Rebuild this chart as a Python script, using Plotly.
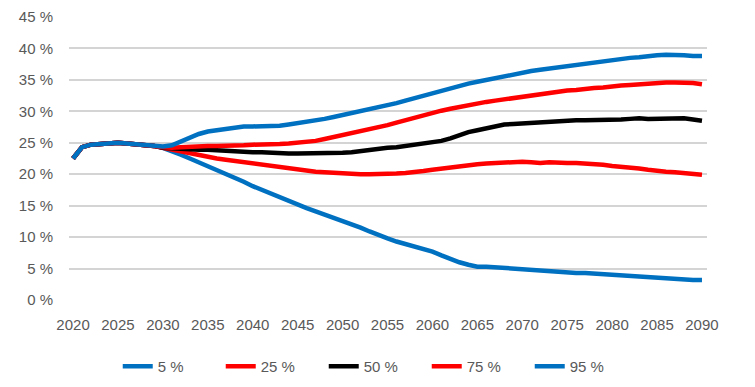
import plotly.graph_objects as go

years = list(range(2020, 2091))

common = [22.5, 24.3, 24.7, 24.8, 24.9, 25.0, 24.9, 24.8, 24.7, 24.5]  # 2020-2029

p95 = common + [24.4, 24.6, 25.2, 25.9, 26.4, 26.8, 27.0, 27.2, 27.4, 27.6,
                27.6, 27.6, 27.6, 27.7, 27.9, 28.1, 28.3, 28.5, 28.8, 29.1,
                29.4, 29.7, 30.0, 30.3, 30.6, 30.9, 31.3, 31.7, 32.1, 32.5,
                32.9, 33.3, 33.6, 34.0, 34.4, 34.7, 35.0, 35.3, 35.6, 35.9,
                36.2, 36.4, 36.6, 36.8, 37.0, 37.1, 37.3, 37.5, 37.7, 38.0,
                38.2, 38.4, 38.5, 38.6, 38.8, 38.9, 39.0, 39.0, 38.9, 38.8,
                38.8]

p75 = common + [24.3, 24.2, 24.3, 24.4, 24.4, 24.5, 24.5, 24.5, 24.6, 24.6,
                24.7, 24.7, 24.8, 24.8, 24.9, 25.0, 25.1, 25.3, 25.6, 25.9,
                26.2, 26.5, 26.9, 27.2, 27.5, 27.8, 28.2, 28.6, 28.9, 29.3,
                29.7, 30.1, 30.4, 30.7, 30.9, 31.2, 31.5, 31.7, 31.9, 32.2,
                32.4, 32.6, 32.8, 33.0, 33.1, 33.3, 33.4, 33.6, 33.7, 33.8,
                34.0, 34.1, 34.2, 34.3, 34.4, 34.6, 34.6, 34.6, 34.6, 34.5,
                34.3]

p50 = common + [24.2, 24.1, 24.0, 24.0, 23.9, 23.9, 23.8, 23.7, 23.7, 23.6,
                23.5, 23.5, 23.4, 23.3, 23.3, 23.3, 23.3, 23.3, 23.3, 23.3,
                23.4, 23.5, 23.7, 23.8, 24.0, 24.2, 24.3, 24.5, 24.6, 24.8,
                25.0, 25.3, 25.7, 26.2, 26.7, 27.0, 27.3, 27.6, 27.9, 28.0,
                28.1, 28.2, 28.3, 28.4, 28.5, 28.5, 28.6, 28.6, 28.6, 28.6,
                28.7, 28.7, 28.8, 28.9, 28.8, 28.8, 28.9, 28.9, 28.9, 28.7,
                28.5]

p25 = common + [24.2, 23.9, 23.6, 23.3, 23.0, 22.7, 22.5, 22.3, 22.1, 21.9,
                21.7, 21.5, 21.3, 21.1, 20.9, 20.7, 20.5, 20.4, 20.3, 20.2,
                20.1, 20.0, 20.0, 20.0, 20.0, 20.0, 20.1, 20.2, 20.3, 20.5,
                20.7, 20.9, 21.1, 21.3, 21.5, 21.6, 21.7, 21.8, 21.9, 22.0,
                22.0, 21.9, 21.8, 21.9, 21.8, 21.8, 21.8, 21.7, 21.7, 21.5,
                21.3, 21.2, 21.1, 20.9, 20.7, 20.5, 20.4, 20.3, 20.2, 20.0,
                19.9]

p5 = common + [24.2, 23.7, 23.1, 22.5, 21.9, 21.3, 20.7, 20.1, 19.4, 18.8,
               18.1, 17.5, 16.9, 16.4, 15.8, 15.2, 14.6, 14.1, 13.6, 13.1,
               12.5, 12.0, 11.5, 10.9, 10.3, 9.8, 9.3, 8.9, 8.5, 8.1,
               7.7, 7.1, 6.5, 6.0, 5.6, 5.3, 5.3, 5.2, 5.0, 4.9,
               4.8, 4.8, 4.7, 4.5, 4.4, 4.4, 4.3, 4.3, 4.2, 4.1,
               4.0, 3.9, 3.8, 3.7, 3.6, 3.5, 3.4, 3.3, 3.2, 3.2,
               3.2]

series_names = ["5 %", "25 %", "50 %", "75 %", "95 %"]
series_values = [p5, p25, p50, p75, p95]
series_colors = ["#0070C0", "#FF0000", "#000000", "#FF0000", "#0070C0"]

x_ticks = list(range(2020, 2091, 5))
y_ticks = list(range(0, 46, 5))
y_tick_labels = [f"{v} %" for v in y_ticks]

fig = go.Figure()
for name, vals, col in zip(series_names, series_values, series_colors):
    fig.add_trace(go.Scatter(x=years, y=vals, mode="lines", name=name,
                             line=dict(color=col, width=4.5)))

font_family = "Liberation Sans, Arial, sans-serif"
fig.update_layout(
    width=755, height=387,
    margin=dict(l=61, r=56, t=9, b=95, autoexpand=False),
    paper_bgcolor="white", plot_bgcolor="white",
    font=dict(family=font_family, size=15, color="#595959"),
    showlegend=True,
    legend=dict(orientation="h", x=0.48, xanchor="center", y=-0.235, yanchor="middle",
                font=dict(size=15, color="#595959"), entrywidth=58,
                traceorder="normal"),
    xaxis=dict(range=[2019.55, 2090.56], tickmode="array", tickvals=x_ticks,
               showgrid=False, zeroline=False, showline=False,
               ticks="outside", ticklen=11, tickcolor="rgba(0,0,0,0)",
               tickfont=dict(size=15, color="#595959")),
    yaxis=dict(range=[0, 45], tickmode="array", tickvals=y_ticks, ticktext=y_tick_labels,
               showgrid=True, gridcolor="#D4D4D4", gridwidth=1.6,
               zeroline=False, showline=False,
               ticks="outside", ticklen=12, tickcolor="rgba(0,0,0,0)",
               tickfont=dict(size=15, color="#595959")),
)

fig.write_html("out.html")
